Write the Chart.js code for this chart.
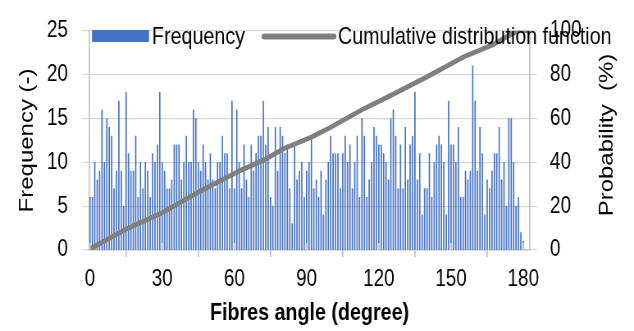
<!DOCTYPE html>
<html><head><meta charset="utf-8">
<script src="https://cdn.jsdelivr.net/npm/chart.js@4"></script>
<style>html,body{margin:0;padding:0;background:#fff;overflow:hidden}#wrap{width:634px;height:331px;position:relative}</style>
</head><body><div id="wrap"><canvas id="c" width="773" height="331" style="width:634px;height:331px;display:block"></canvas></div>
<script>
// ---- data ----
const angles = Array.from({length: 181}, (_, i) => i); // category angles 0..180 degree
const frequency = [
  6,6,10,8,9,16,10,15,14,13,7,9,17,9,5,18,11,9,9,13,6,10,7,10,9,6,11,10,12,18,10,
  9,7,7,8,12,12,12,8,10,13,10,10,16,15,10,9,12,10,8,11,8,7,10,10,13,11,11,7,17,7,
  16,10,7,12,8,6,12,9,11,13,13,17,12,14,6,5,14,9,14,13,11,12,7,3,12,8,9,10,6,9,10,13,
  7,8,6,9,4,8,10,13,11,11,11,7,11,13,10,12,7,10,13,6,15,13,6,8,10,14,13,12,12,11,10,8,
  15,16,13,7,12,7,14,8,12,13,18,8,11,4,7,7,11,6,10,12,13,12,10,4,17,12,12,10,14,6,6,
  9,8,9,21,17,9,14,11,4,8,7,9,11,11,14,8,10,5,15,15,10,5,6,2,1
];
const cdfAngles = [0, 15, 30, 46, 61, 73, 81, 92, 100, 113, 124, 140, 155, 167, 175, 178, 182.8];
const cdfValues = [0.5, 9.5, 17, 27, 35.5, 41.5, 46.5, 51.5, 56, 64, 70, 79, 88, 93.5, 98.5, 100, 100];
const xTicks = [0, 30, 60, 90, 120, 150, 180];
const yLeftTicks = [0, 5, 10, 15, 20, 25];
const yRightTicks = [0, 20, 40, 60, 80, 100];
const seriesLabels = ['Frequency', 'Cumulative distribution function'];
const xTitle = 'Fibres angle (degree)';
const yTitle = 'Frequency (-)';
const y2Title = 'Probability  (%)';

// The chart is laid out on a wider canvas and shown squeezed to 634px,
// which reproduces the narrow lettering of the reference.
const K = 773 / 634;
const FONT = "'Liberation Sans',Arial,sans-serif";
const BLUE = '#4472C4';
const GREY = '#7F7F7F';
const GRID = '#D9D9D9';
const AXIS = '#C6C6C6';
Chart.defaults.font.family = FONT;
Chart.defaults.color = '#000';

const barData = angles.map((a, i) => ({x: a, y: frequency[i]}));
const cdfData = cdfAngles.map((a, i) => ({x: a, y: cdfValues[i]}));

const extras = {
  id: 'extras',
  afterDatasetsDraw(chart) {
    const ctx = chart.ctx;
    const xs = chart.scales.x;
    const ca = chart.chartArea;
    ctx.save();
    // inner half of the crossing x tick marks
    ctx.strokeStyle = AXIS; ctx.lineWidth = 1.8;
    xTicks.forEach(v => {
      const px = xs.getPixelForValue(v);
      ctx.beginPath(); ctx.moveTo(px, ca.bottom - 7); ctx.lineTo(px, ca.bottom); ctx.stroke();
    });
    // legend
    ctx.fillStyle = BLUE;
    ctx.fillRect(92 * K, 30, 57 * K, 12);
    ctx.strokeStyle = GREY; ctx.lineWidth = 6; ctx.lineCap = 'round';
    ctx.beginPath(); ctx.moveTo(264 * K, 36.5); ctx.lineTo(334 * K, 36.5); ctx.stroke();
    ctx.fillStyle = '#000';
    ctx.font = "24px " + FONT;
    ctx.textBaseline = 'middle'; ctx.textAlign = 'left';
    ctx.fillText(seriesLabels[0], 152 * K, 37);
    ctx.fillText(seriesLabels[1], 338 * K, 37);
    // right axis title (reads bottom to top)
    ctx.translate(607 * K, 135);
    ctx.rotate(-Math.PI / 2);
    ctx.textAlign = 'center';
    ctx.fillText(y2Title, 0, 0);
    ctx.restore();
  }
};

new Chart(document.getElementById('c'), {
  type: 'bar',
  data: {
    datasets: [
      {
        type: 'line', label: seriesLabels[1], data: cdfData, yAxisID: 'y2', xAxisID: 'x',
        borderColor: GREY, backgroundColor: GREY, borderWidth: 5, pointRadius: 0,
        tension: 0, order: 0, borderJoinStyle: 'round'
      },
      {
        type: 'bar', label: seriesLabels[0], data: barData, yAxisID: 'y', xAxisID: 'x',
        backgroundColor: BLUE, borderWidth: 0, barThickness: 1, order: 1
      }
    ]
  },
  options: {
    responsive: false,
    animation: false,
    devicePixelRatio: 1,
    layout: {padding: {top: 20, left: 0, right: 0, bottom: 0}},
    plugins: {legend: {display: false}, tooltip: {enabled: false}},
    scales: {
      x: {
        type: 'linear', min: -0.4, max: 182.8, offset: false,
        afterBuildTicks: s => { s.ticks = xTicks.map(v => ({value: v})); },
        afterFit: s => { s.height = 81; },
        grid: {drawOnChartArea: false, tickLength: 7, color: AXIS, lineWidth: 1.8},
        border: {color: AXIS, width: 1.5},
        ticks: {font: {size: 23}, padding: 9, maxRotation: 0, autoSkip: false},
        title: {display: true, text: xTitle, font: {size: 24, weight: 'bold'}, padding: {top: 0, bottom: 3}}
      },
      y: {
        position: 'left', min: 0, max: 25,
        afterBuildTicks: s => { s.ticks = yLeftTicks.map(v => ({value: v})); },
        afterFit: s => { s.width = 89 * K; },
        grid: {color: GRID, lineWidth: 1.2, tickLength: 7 * K},
        border: {color: AXIS, width: 1.8},
        ticks: {font: {size: 23}, padding: 14 * K},
        title: {display: true, text: yTitle, font: {size: 24}, padding: {top: 27 * K - 14.4, bottom: 0}}
      },
      y2: {
        position: 'right', min: 0, max: 100,
        afterBuildTicks: s => { s.ticks = yRightTicks.map(v => ({value: v})); },
        afterFit: s => { s.width = 773 - 530 * K; },
        grid: {drawOnChartArea: false, color: GRID, lineWidth: 1.2, tickLength: 7 * K},
        border: {color: AXIS, width: 1.8},
        ticks: {font: {size: 23}, padding: 13 * K}
      }
    }
  },
  plugins: [extras]
});
</script>
</body></html>
